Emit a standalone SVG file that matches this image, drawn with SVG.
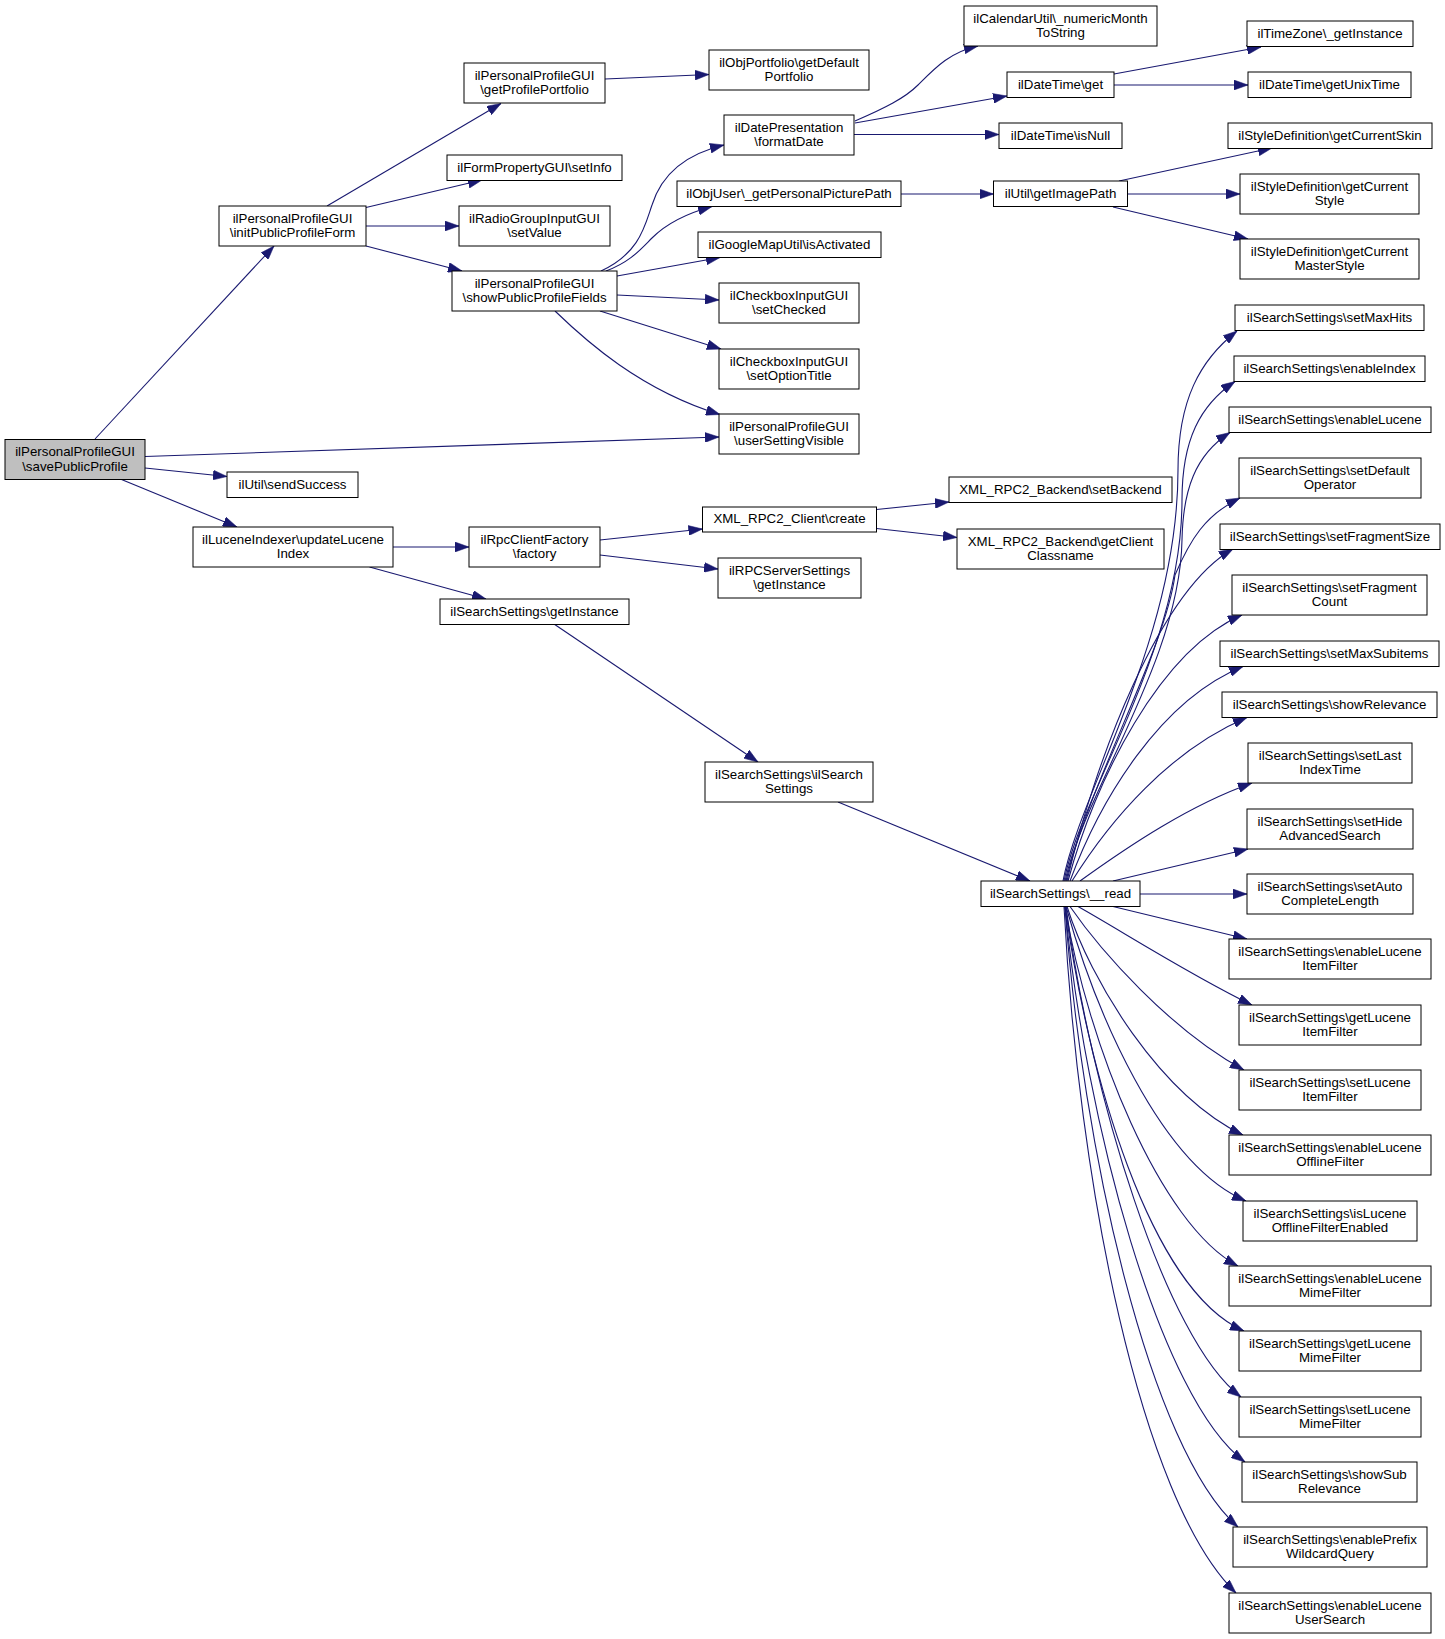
<svg xmlns="http://www.w3.org/2000/svg" width="1445" height="1639" viewBox="0 0 1445 1639">
<style>
.node rect{fill:#ffffff;stroke:#000000;stroke-width:1}
.root rect{fill:#bfbfbf}
.node text{font-family:"Liberation Sans",Arial,Helvetica,sans-serif;font-size:13.3px;text-anchor:middle;fill:#000000}
.edges path{fill:none;stroke:#191970;stroke-width:1.1;marker-end:url(#arr)}
</style>
<defs>
<marker id="arr" markerUnits="userSpaceOnUse" markerWidth="14" markerHeight="10" viewBox="0 0 13.3 9.4" refX="13.3" refY="4.7" orient="auto">
<path d="M0,0 L13.3,4.7 L0,9.4 z" fill="#191970" stroke="#191970" stroke-width="0.5"/>
</marker>
</defs>
<rect x="0" y="0" width="1445" height="1639" fill="#ffffff"/>
<g id="edges" class="edges">
<path d="M95,439 L274,246"/>
<path d="M145,456.5 L719,437"/>
<path d="M145,468 L227,476.5"/>
<path d="M121.5,479.5 L237,527"/>
<path d="M327,206 L501,103.5"/>
<path d="M366,207.5 L482,180"/>
<path d="M366,226 L459,226"/>
<path d="M366,246 L462,271"/>
<path d="M605,79 L709,74.5"/>
<path d="M601,271 C640,253 645,225 652,205 C663,170 690,153 724,145"/>
<path d="M606,271 C630,262 640,250 652,238 C668,222 688,213 712,206.5"/>
<path d="M617,276 L720,257.5"/>
<path d="M617,295 L719,300"/>
<path d="M600,311 L721,349"/>
<path d="M555,311 C585,340 640,390 720,414.5"/>
<path d="M855,121 C885,108 905,98 918,85 C935,68 950,52 978,46"/>
<path d="M855,123 L1007,96"/>
<path d="M854,134.5 L999,134.5"/>
<path d="M901,194 L993.5,194"/>
<path d="M1114,74 L1261,47"/>
<path d="M1114,85 L1248,85"/>
<path d="M1119,181 L1272,148"/>
<path d="M1127.5,194 L1240,194"/>
<path d="M1113,207 L1248,239"/>
<path d="M393,547 L469,547"/>
<path d="M369.5,567 L486,599"/>
<path d="M600,540 L702.5,529"/>
<path d="M600,555 L718,569"/>
<path d="M876.5,509.5 L949,502"/>
<path d="M876.5,528.5 L957,537.5"/>
<path d="M554,624 L758,762"/>
<path d="M838,802 L1030,881"/>
<path d="M1063,881 C1080,790 1178,640 1178,470 C1178,400 1200,360 1237,331"/>
<path d="M1064,881 C1082,790 1182,650 1182,500 C1182,440 1200,405 1235,381.5"/>
<path d="M1065,881 C1085,790 1180,660 1182,540 C1183,490 1195,455 1230,432.5"/>
<path d="M1066,881 C1090,780 1165,650 1175,575 C1190,540 1205,515 1240,498"/>
<path d="M1067,881 C1095,760 1160,590 1233,549"/>
<path d="M1068,881 C1095,780 1160,650 1242,615"/>
<path d="M1070,881 C1100,800 1160,700 1243,666.5"/>
<path d="M1072,881 C1110,820 1170,750 1247,717.5"/>
<path d="M1080,881 C1130,845 1190,805 1252,783"/>
<path d="M1113,881 L1248,849"/>
<path d="M1140,894 L1247,894"/>
<path d="M1113,906.5 L1247,939"/>
<path d="M1078,906.5 C1120,930 1190,975 1252,1005"/>
<path d="M1070,906.5 C1100,950 1170,1030 1244,1070"/>
<path d="M1067,906.5 C1090,980 1160,1095 1243,1135"/>
<path d="M1066,906.5 C1095,1010 1160,1165 1246,1201"/>
<path d="M1065,906.5 C1088,1045 1160,1225 1238,1266"/>
<path d="M1065,906.5 C1088,1075 1150,1290 1244,1331"/>
<path d="M1066,906.5 C1090,1090 1165,1340 1241,1397"/>
<path d="M1065,906.5 C1085,1120 1160,1400 1245,1462"/>
<path d="M1065,906.5 C1082,1150 1150,1450 1238,1527"/>
<path d="M1064,906.5 C1078,1180 1140,1500 1236,1593"/>
</g>
<g id="n1" class="node root"><rect x="5" y="439.5" width="140" height="40"/><text x="75" y="456">ilPersonalProfileGUI</text><text x="75" y="470.5">\savePublicProfile</text></g>
<g id="n2" class="node"><rect x="219" y="206" width="147" height="40"/><text x="292.5" y="222.5">ilPersonalProfileGUI</text><text x="292.5" y="237">\initPublicProfileForm</text></g>
<g id="n3" class="node"><rect x="464" y="63" width="141" height="40"/><text x="534.5" y="79.5">ilPersonalProfileGUI</text><text x="534.5" y="94">\getProfilePortfolio</text></g>
<g id="n4" class="node"><rect x="447" y="155" width="175" height="25.5"/><text x="534.5" y="171.5">ilFormPropertyGUI\setInfo</text></g>
<g id="n5" class="node"><rect x="459" y="206" width="151" height="40"/><text x="534.5" y="222.5">ilRadioGroupInputGUI</text><text x="534.5" y="237">\setValue</text></g>
<g id="n6" class="node"><rect x="452" y="271" width="165" height="40"/><text x="534.5" y="287.5">ilPersonalProfileGUI</text><text x="534.5" y="302">\showPublicProfileFields</text></g>
<g id="n7" class="node"><rect x="709" y="50" width="160" height="40"/><text x="789" y="66.5">ilObjPortfolio\getDefault</text><text x="789" y="81">Portfolio</text></g>
<g id="n8" class="node"><rect x="724" y="115" width="130" height="40"/><text x="789" y="131.5">ilDatePresentation</text><text x="789" y="146">\formatDate</text></g>
<g id="n9" class="node"><rect x="677" y="181" width="224" height="25.5"/><text x="789" y="197.5">ilObjUser\_getPersonalPicturePath</text></g>
<g id="n10" class="node"><rect x="698" y="232" width="183" height="25.5"/><text x="789.5" y="248.5">ilGoogleMapUtil\isActivated</text></g>
<g id="n11" class="node"><rect x="719" y="283" width="140" height="40"/><text x="789" y="299.5">ilCheckboxInputGUI</text><text x="789" y="314">\setChecked</text></g>
<g id="n12" class="node"><rect x="719" y="349" width="140" height="40"/><text x="789" y="365.5">ilCheckboxInputGUI</text><text x="789" y="380">\setOptionTitle</text></g>
<g id="n13" class="node"><rect x="719" y="414" width="140" height="40"/><text x="789" y="430.5">ilPersonalProfileGUI</text><text x="789" y="445">\userSettingVisible</text></g>
<g id="n14" class="node"><rect x="964" y="6" width="193" height="40"/><text x="1060.5" y="22.5">ilCalendarUtil\_numericMonth</text><text x="1060.5" y="37">ToString</text></g>
<g id="n15" class="node"><rect x="1247" y="21" width="166" height="25.5"/><text x="1330" y="37.5">ilTimeZone\_getInstance</text></g>
<g id="n16" class="node"><rect x="1007" y="72" width="107" height="25.5"/><text x="1060.5" y="88.5">ilDateTime\get</text></g>
<g id="n17" class="node"><rect x="1248" y="72" width="163" height="25.5"/><text x="1329.5" y="88.5">ilDateTime\getUnixTime</text></g>
<g id="n18" class="node"><rect x="999" y="123" width="123" height="25.5"/><text x="1060.5" y="139.5">ilDateTime\isNull</text></g>
<g id="n19" class="node"><rect x="1228" y="123" width="204" height="25.5"/><text x="1330" y="139.5">ilStyleDefinition\getCurrentSkin</text></g>
<g id="n20" class="node"><rect x="993.5" y="181" width="134" height="25.5"/><text x="1060.5" y="197.5">ilUtil\getImagePath</text></g>
<g id="n21" class="node"><rect x="1240" y="174" width="179" height="40"/><text x="1329.5" y="190.5">ilStyleDefinition\getCurrent</text><text x="1329.5" y="205">Style</text></g>
<g id="n22" class="node"><rect x="1240" y="239" width="179" height="40"/><text x="1329.5" y="255.5">ilStyleDefinition\getCurrent</text><text x="1329.5" y="270">MasterStyle</text></g>
<g id="n23" class="node"><rect x="227" y="472" width="131" height="25.5"/><text x="292.5" y="488.5">ilUtil\sendSuccess</text></g>
<g id="n24" class="node"><rect x="193" y="527" width="200" height="40"/><text x="293" y="543.5">ilLuceneIndexer\updateLucene</text><text x="293" y="558">Index</text></g>
<g id="n25" class="node"><rect x="469" y="527" width="131" height="40"/><text x="534.5" y="543.5">ilRpcClientFactory</text><text x="534.5" y="558">\factory</text></g>
<g id="n26" class="node"><rect x="440" y="599" width="189" height="25.5"/><text x="534.5" y="615.5">ilSearchSettings\getInstance</text></g>
<g id="n27" class="node"><rect x="702.5" y="507" width="174" height="25"/><text x="789.5" y="523">XML_RPC2_Client\create</text></g>
<g id="n28" class="node"><rect x="718" y="558" width="143" height="40"/><text x="789.5" y="574.5">ilRPCServerSettings</text><text x="789.5" y="589">\getInstance</text></g>
<g id="n29" class="node"><rect x="949" y="477" width="223" height="25.5"/><text x="1060.5" y="493.5">XML_RPC2_Backend\setBackend</text></g>
<g id="n30" class="node"><rect x="957" y="529" width="207" height="40"/><text x="1060.5" y="545.5">XML_RPC2_Backend\getClient</text><text x="1060.5" y="560">Classname</text></g>
<g id="n31" class="node"><rect x="705" y="762" width="168" height="40"/><text x="789" y="778.5">ilSearchSettings\ilSearch</text><text x="789" y="793">Settings</text></g>
<g id="n32" class="node"><rect x="981" y="881" width="159" height="25.5"/><text x="1060.5" y="897.5">ilSearchSettings\__read</text></g>
<g id="n33" class="node"><rect x="1235" y="305" width="189" height="25.5"/><text x="1329.5" y="321.5">ilSearchSettings\setMaxHits</text></g>
<g id="n34" class="node"><rect x="1234" y="356" width="191" height="25.5"/><text x="1329.5" y="372.5">ilSearchSettings\enableIndex</text></g>
<g id="n35" class="node"><rect x="1229" y="407" width="202" height="25.5"/><text x="1330" y="423.5">ilSearchSettings\enableLucene</text></g>
<g id="n36" class="node"><rect x="1239" y="458" width="182" height="40"/><text x="1330" y="474.5">ilSearchSettings\setDefault</text><text x="1330" y="489">Operator</text></g>
<g id="n37" class="node"><rect x="1220" y="524" width="220" height="25.5"/><text x="1330" y="540.5">ilSearchSettings\setFragmentSize</text></g>
<g id="n38" class="node"><rect x="1232" y="575" width="195" height="40"/><text x="1329.5" y="591.5">ilSearchSettings\setFragment</text><text x="1329.5" y="606">Count</text></g>
<g id="n39" class="node"><rect x="1220" y="641" width="219" height="25.5"/><text x="1329.5" y="657.5">ilSearchSettings\setMaxSubitems</text></g>
<g id="n40" class="node"><rect x="1222" y="692" width="215" height="25.5"/><text x="1329.5" y="708.5">ilSearchSettings\showRelevance</text></g>
<g id="n41" class="node"><rect x="1248" y="743" width="164" height="40"/><text x="1330" y="759.5">ilSearchSettings\setLast</text><text x="1330" y="774">IndexTime</text></g>
<g id="n42" class="node"><rect x="1247" y="809" width="166" height="40"/><text x="1330" y="825.5">ilSearchSettings\setHide</text><text x="1330" y="840">AdvancedSearch</text></g>
<g id="n43" class="node"><rect x="1247" y="874" width="166" height="40"/><text x="1330" y="890.5">ilSearchSettings\setAuto</text><text x="1330" y="905">CompleteLength</text></g>
<g id="n44" class="node"><rect x="1229" y="939" width="202" height="40"/><text x="1330" y="955.5">ilSearchSettings\enableLucene</text><text x="1330" y="970">ItemFilter</text></g>
<g id="n45" class="node"><rect x="1239" y="1005" width="182" height="40"/><text x="1330" y="1021.5">ilSearchSettings\getLucene</text><text x="1330" y="1036">ItemFilter</text></g>
<g id="n46" class="node"><rect x="1239" y="1070" width="182" height="40"/><text x="1330" y="1086.5">ilSearchSettings\setLucene</text><text x="1330" y="1101">ItemFilter</text></g>
<g id="n47" class="node"><rect x="1229" y="1135" width="202" height="40"/><text x="1330" y="1151.5">ilSearchSettings\enableLucene</text><text x="1330" y="1166">OfflineFilter</text></g>
<g id="n48" class="node"><rect x="1243" y="1201" width="174" height="40"/><text x="1330" y="1217.5">ilSearchSettings\isLucene</text><text x="1330" y="1232">OfflineFilterEnabled</text></g>
<g id="n49" class="node"><rect x="1229" y="1266" width="202" height="40"/><text x="1330" y="1282.5">ilSearchSettings\enableLucene</text><text x="1330" y="1297">MimeFilter</text></g>
<g id="n50" class="node"><rect x="1239" y="1331" width="182" height="40"/><text x="1330" y="1347.5">ilSearchSettings\getLucene</text><text x="1330" y="1362">MimeFilter</text></g>
<g id="n51" class="node"><rect x="1239" y="1397" width="182" height="40"/><text x="1330" y="1413.5">ilSearchSettings\setLucene</text><text x="1330" y="1428">MimeFilter</text></g>
<g id="n52" class="node"><rect x="1242" y="1462" width="175" height="40"/><text x="1329.5" y="1478.5">ilSearchSettings\showSub</text><text x="1329.5" y="1493">Relevance</text></g>
<g id="n53" class="node"><rect x="1233" y="1527" width="194" height="40"/><text x="1330" y="1543.5">ilSearchSettings\enablePrefix</text><text x="1330" y="1558">WildcardQuery</text></g>
<g id="n54" class="node"><rect x="1229" y="1593" width="202" height="40"/><text x="1330" y="1609.5">ilSearchSettings\enableLucene</text><text x="1330" y="1624">UserSearch</text></g>
</svg>
